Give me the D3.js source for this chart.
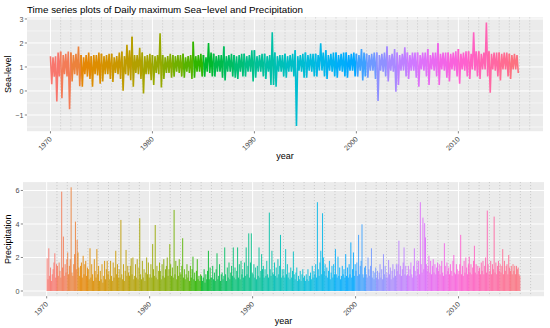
<!DOCTYPE html>
<html>
<head>
<meta charset="utf-8">
<script src="https://cdn.jsdelivr.net/npm/d3@7/dist/d3.min.js"></script>
<style>
  body { margin: 0; background: #fff; }
  text { font-family: "Liberation Sans", Arial, sans-serif; }
</style>
</head>
<body>
<svg id="chart" width="550" height="328"></svg>
<script>
// one row per year (1970 onwards), four quarterly highs / lows of daily max sea-level
var firstYear = 1970;
var seaHigh = [
  [1.45,1.40,1.45,1.60],[1.64,1.50,1.55,1.64],[1.60,1.50,1.55,1.85],[1.50,1.40,1.50,1.60],
  [1.45,1.50,1.50,1.60],[1.55,1.45,1.50,1.55],[1.55,1.40,1.45,1.60],[1.64,1.45,1.92,1.70],
  [2.26,1.50,1.50,1.80],[1.60,1.45,1.50,1.55],[1.50,1.45,1.50,2.40],[1.50,1.40,1.45,1.55],
  [1.50,1.45,1.50,1.50],[1.55,1.40,1.45,1.50],[2.05,1.45,1.50,1.55],[1.50,1.40,2.00,1.60],
  [1.55,1.45,1.50,1.50],[1.85,1.45,1.50,1.55],[1.50,1.45,1.50,1.55],[1.55,1.45,1.50,1.70],
  [1.70,1.45,1.50,1.55],[1.55,1.45,1.50,2.45],[1.60,1.45,1.50,1.50],[1.55,1.45,1.50,1.55],
  [1.70,1.45,1.50,1.55],[1.60,1.50,1.55,1.55],[1.55,1.50,1.99,1.60],[1.70,1.50,1.55,1.60],
  [1.60,1.50,1.55,1.60],[1.60,1.50,1.55,1.60],[1.55,1.50,1.75,1.60],[1.55,1.50,1.55,1.60],
  [1.60,1.50,1.55,1.60],[1.85,1.50,1.55,1.75],[1.60,1.50,1.55,1.82],[1.60,1.50,1.60,1.60],
  [1.60,1.50,1.60,1.60],[1.75,1.50,1.60,1.60],[1.99,1.55,1.60,1.60],[1.60,1.55,1.60,1.65],
  [1.75,1.55,1.60,1.65],[1.65,1.55,2.45,1.65],[1.65,1.55,1.60,2.85],[1.65,1.55,1.60,1.60],
  [1.60,1.55,1.60,1.60],[1.55,1.50,1.55,1.50]
];
var seaLow = [
  [0.28,0.60,-0.44,0.60],[-0.30,0.70,0.60,-0.76],[0.40,0.70,0.65,0.20],[0.18,0.70,0.60,0.50],
  [0.18,0.70,0.65,0.30],[0.40,0.70,0.70,0.50],[0.38,0.75,0.70,0.50],[0.01,0.70,0.65,0.45],
  [0.18,0.75,0.70,0.50],[-0.10,0.70,0.70,0.45],[0.25,0.75,0.70,0.15],[0.50,0.75,0.75,0.55],
  [0.60,0.80,0.75,0.60],[0.55,0.80,0.75,0.50],[0.55,0.80,0.80,0.60],[0.60,0.80,0.75,0.60],
  [0.60,0.80,0.80,0.55],[0.44,0.80,0.80,0.60],[0.55,0.50,0.80,0.60],[0.60,0.80,0.80,0.40],
  [0.55,0.80,0.80,0.60],[0.50,0.80,0.25,0.25],[0.18,0.80,0.80,0.60],[0.55,0.80,0.80,0.60],
  [-1.46,0.85,0.80,0.55],[0.55,0.85,0.80,0.60],[0.60,0.85,0.85,0.60],[0.50,0.85,0.80,0.60],
  [0.55,0.85,0.80,0.60],[0.55,0.85,0.85,0.60],[0.60,0.85,0.44,0.60],[0.55,0.85,0.85,0.50],
  [-0.42,0.85,0.80,0.60],[0.40,0.85,0.80,-0.03],[0.25,0.85,0.85,0.60],[0.50,0.85,0.85,0.55],
  [0.18,0.90,0.85,0.60],[0.25,0.90,0.85,0.60],[0.25,0.90,0.85,0.55],[0.40,0.90,0.85,0.60],
  [0.30,0.90,0.85,0.60],[0.50,0.90,0.85,0.60],[0.50,0.90,0.90,0.60],[-0.07,0.90,0.85,0.60],
  [0.44,0.90,0.90,0.60],[0.50,0.90,0.90,0.75]
];
// one row per year, monthly maxima of daily precipitation
var precipMax = [
  [1.95,0.7,2.55,0.9,1.4,0.6,1.0,1.3,1.7,2.25,0.8,1.6],
  [1.5,0.9,1.7,1.2,0.8,5.93,1.4,3.25,0.9,1.6,1.1,1.9],
  [2.3,1.0,1.5,1.9,6.19,1.1,0.9,1.6,2.2,4.14,1.3,3.05],
  [2.3,1.4,0.9,1.5,1.7,0.8,2.1,1.0,1.6,1.8,0.9,1.4],
  [1.3,0.7,2.55,0.8,1.6,1.0,0.6,1.9,1.2,0.8,2.5,1.0],
  [1.5,0.6,1.2,0.7,1.6,0.5,0.9,1.8,0.7,1.3,1.8,1.0],
  [1.2,0.7,1.8,0.9,0.6,1.7,0.8,1.4,2.4,1.0,1.6,0.8],
  [1.3,0.8,4.24,1.0,0.7,1.6,0.6,1.2,2.45,0.9,1.5,1.1],
  [0.9,1.5,1.95,1.0,2.0,0.7,0.9,1.6,0.8,1.9,0.7,1.4],
  [4.34,1.0,0.7,1.8,0.8,1.3,0.6,1.1,2.0,1.0,1.7,0.8],
  [1.0,1.6,0.8,2.8,1.3,0.9,3.94,0.8,1.5,0.7,1.2,1.7],
  [1.2,0.7,1.6,0.9,1.9,0.8,1.3,1.5,2.0,0.9,1.3,2.8],
  [1.6,0.9,1.4,0.8,4.84,1.0,1.8,0.7,1.5,0.9,1.9,1.1],
  [1.0,1.5,3.15,0.8,1.3,0.7,1.0,1.6,0.8,1.2,0.6,1.5],
  [0.8,1.3,2.05,0.7,1.1,0.6,1.2,1.9,0.7,0.9,0.6,1.0],
  [0.9,0.6,0.8,1.3,0.5,1.0,0.7,1.2,2.4,0.7,1.4,0.8],
  [0.8,1.5,0.7,1.1,0.6,1.3,2.25,0.7,0.9,1.6,0.6,1.0],
  [1.1,0.7,0.9,2.6,1.0,0.6,1.4,0.8,1.7,0.7,1.1,1.5],
  [0.9,2.6,0.8,1.4,0.7,1.2,2.6,0.8,1.6,0.7,1.8,1.0],
  [1.3,0.8,1.7,0.9,2.6,1.0,1.5,3.44,0.8,1.7,3.44,1.1],
  [1.0,1.6,0.8,1.4,0.7,1.5,0.9,2.6,0.8,1.2,2.2,1.3],
  [1.5,0.8,1.3,0.9,1.8,1.0,0.8,4.68,1.3,0.9,2.4,1.1],
  [1.0,1.7,0.9,1.4,0.8,1.9,1.0,1.5,3.35,0.8,1.3,0.9],
  [1.3,0.8,2.5,1.0,1.6,0.8,1.1,0.7,1.4,0.8,1.2,2.35],
  [1.0,0.7,1.1,1.4,0.6,0.9,0.7,1.2,0.6,1.0,1.3,0.8],
  [0.9,0.6,1.0,0.7,1.3,0.6,0.9,1.1,0.7,1.5,0.8,1.2],
  [1.0,1.6,0.8,5.3,1.3,0.9,1.7,2.4,1.0,4.64,2.0,1.2],
  [1.6,0.9,1.4,0.8,1.2,1.8,0.7,1.1,1.5,0.8,1.6,1.0],
  [2.5,1.0,0.8,2.05,0.9,1.4,0.7,0.9,1.5,1.0,1.3,0.8],
  [2.2,0.9,1.4,0.8,1.6,1.0,2.9,0.8,1.3,2.3,0.9,1.6],
  [1.2,1.7,0.9,3.35,1.0,1.5,1.8,3.98,1.0,0.8,1.4,1.5],
  [1.0,0.8,2.0,1.3,0.9,1.5,2.55,0.8,1.2,0.7,1.1,1.4],
  [0.8,1.2,0.7,1.1,1.6,0.8,1.3,0.7,2.2,1.0,1.5,0.8],
  [1.1,0.8,1.85,1.0,1.4,0.7,1.2,1.6,0.8,1.3,0.9,1.6],
  [1.2,1.6,3.0,1.0,1.5,0.9,1.3,1.7,2.6,1.0,1.5,0.9],
  [1.0,1.5,0.9,1.3,1.7,1.0,0.8,1.5,2.55,1.2,0.9,1.8],
  [1.3,1.8,1.0,5.3,1.6,1.1,4.38,1.3,4.05,3.2,1.6,1.2],
  [1.5,2.1,1.1,1.8,1.0,1.5,1.9,1.1,1.6,1.0,1.4,1.7],
  [1.2,1.6,1.0,1.5,1.8,1.1,0.9,2.85,1.5,1.0,1.7,1.2],
  [1.4,1.0,1.6,1.2,0.9,1.8,2.15,1.1,1.0,1.6,1.3,1.0],
  [1.2,1.6,3.35,1.0,1.5,0.9,1.8,1.1,2.0,1.4,1.0,1.6],
  [2.05,1.1,1.6,1.0,1.4,1.8,2.7,1.1,1.6,1.0,1.5,1.2],
  [1.4,1.0,1.7,1.2,1.8,1.0,1.5,2.0,1.1,4.8,1.6,1.0],
  [1.2,1.8,1.0,1.6,1.3,4.44,1.1,1.7,1.0,1.5,1.8,1.2],
  [1.6,1.1,1.5,2.5,1.0,1.8,1.2,1.5,1.6,1.0,2.15,1.4],
  [1.2,1.5,1.0,1.6,1.2,1.5,1.0,1.5,1.3,1.4,1.0,0.9]
];
var seaTicks = [-1, 0, 1, 2, 3];
var precipTicks = [0, 2, 4, 6];
var yearTicks = [1970, 1980, 1990, 2000, 2010];

var svg = d3.select("#chart");
var nYears = seaHigh.length;

// ggplot style 5% padding around the data range
function expand(ext) {
  var d = (ext[1] - ext[0]) * 0.05;
  return [ext[0] - d, ext[1] + d];
}

// hue_pal() colours: polar LUV -> sRGB
function hclColor(h, c, l) {
  var hr = h * Math.PI / 180;
  var U = c * Math.cos(hr), V = c * Math.sin(hr);
  var Xn = 95.047, Yn = 100, Zn = 108.883;
  var Y = l > 8 ? Yn * Math.pow((l + 16) / 116, 3) : Yn * l / 903.3;
  var den = Xn + 15 * Yn + 3 * Zn;
  var u = U / (13 * l) + 4 * Xn / den, v = V / (13 * l) + 9 * Yn / den;
  var X = 9 * Y * u / (4 * v);
  var Z = -X / 3 - 5 * Y + 3 * Y / v;
  function gam(t) {
    t = t <= 0.0031308 ? 12.92 * t : 1.055 * Math.pow(t, 1 / 2.4) - 0.055;
    return Math.round(255 * Math.max(0, Math.min(1, t)));
  }
  return d3.rgb(gam((3.240479 * X - 1.537150 * Y - 0.498535 * Z) / 100),
                gam((-0.969256 * X + 1.875992 * Y + 0.041556 * Z) / 100),
                gam((0.055648 * X - 0.204043 * Y + 1.057311 * Z) / 100)).toString();
}
var yearColors = d3.range(nYears).map(function(i) { return hclColor(15 + 360 * i / nYears, 100, 65); });

var xDomain = expand([firstYear, firstYear + nYears]);

function drawPanel(box, yDomain, yTicks, yTitle) {
  var x = d3.scaleLinear().domain(xDomain).range([box.left, box.right]);
  var y = d3.scaleLinear().domain(yDomain).range([box.bottom, box.top]);
  var g = svg.append("g");

  g.append("rect")
    .attr("x", box.left).attr("y", box.top)
    .attr("width", box.right - box.left).attr("height", box.bottom - box.top)
    .attr("fill", "#EBEBEB");

  // minor horizontal grid halfway between ticks
  var step = yTicks[1] - yTicks[0];
  var minorY = d3.range(yTicks[0] - step / 2, yTicks[yTicks.length - 1] + step, step)
    .filter(function(d) { return d > yDomain[0] && d < yDomain[1]; });
  g.selectAll(".minorY").data(minorY).enter().append("line")
    .attr("x1", box.left).attr("x2", box.right)
    .attr("y1", function(d) { return y(d); }).attr("y2", function(d) { return y(d); })
    .attr("stroke", "#fff").attr("stroke-width", 0.5);
  g.selectAll(".majorY").data(yTicks).enter().append("line")
    .attr("x1", box.left).attr("x2", box.right)
    .attr("y1", function(d) { return y(d); }).attr("y2", function(d) { return y(d); })
    .attr("stroke", "#fff").attr("stroke-width", 1);

  // yearly dotted lines, decades solid
  var yearLines = d3.range(Math.ceil(xDomain[0]) + 3, Math.floor(xDomain[1]))
    .filter(function(d) { return d % 10 != 0; });
  g.selectAll(".minorX").data(yearLines).enter().append("line")
    .attr("x1", function(d) { return x(d); }).attr("x2", function(d) { return x(d); })
    .attr("y1", box.top).attr("y2", box.bottom)
    .attr("stroke", "#b8b8b8").attr("stroke-width", 0.7)
    .attr("stroke-dasharray", "1,2");
  g.selectAll(".majorX").data(yearTicks).enter().append("line")
    .attr("x1", function(d) { return x(d); }).attr("x2", function(d) { return x(d); })
    .attr("y1", box.top).attr("y2", box.bottom)
    .attr("stroke", "#fff").attr("stroke-width", 1);

  // axes
  g.selectAll(".ytick").data(yTicks).enter().append("line")
    .attr("x1", box.left - 2.2).attr("x2", box.left)
    .attr("y1", function(d) { return y(d); }).attr("y2", function(d) { return y(d); })
    .attr("stroke", "#333").attr("stroke-width", 0.6);
  g.selectAll(".ylab").data(yTicks).enter().append("text")
    .attr("x", box.left - 3.5).attr("y", function(d) { return y(d) + 2.6; })
    .attr("text-anchor", "end").attr("font-size", 7.2).attr("fill", "#4D4D4D")
    .text(function(d) { return d < 0 ? "\u2212" + Math.abs(d) : d; });
  g.selectAll(".xtick").data(yearTicks).enter().append("line")
    .attr("x1", function(d) { return x(d); }).attr("x2", function(d) { return x(d); })
    .attr("y1", box.bottom).attr("y2", box.bottom + 2.2)
    .attr("stroke", "#333").attr("stroke-width", 0.6);
  g.selectAll(".xlab").data(yearTicks).enter().append("text")
    .attr("transform", function(d) { return "translate(" + (x(d) + 2) + "," + (box.bottom + 8.5) + ") rotate(-45)"; })
    .attr("text-anchor", "end").attr("font-size", 7.2).attr("fill", "#4D4D4D")
    .text(function(d) { return d; });

  g.append("text")
    .attr("x", (box.left + box.right) / 2).attr("y", box.bottom + 28)
    .attr("text-anchor", "middle").attr("font-size", 9).attr("fill", "#000")
    .text("year");
  g.append("text")
    .attr("transform", "translate(11," + ((box.top + box.bottom) / 2) + ") rotate(-90)")
    .attr("text-anchor", "middle").attr("font-size", 9).attr("fill", "#000")
    .text(yTitle);

  return { x: x, y: y, g: g };
}

// ---- Sea-level panel ----
var seaExt = expand([d3.min(seaLow, function(r) { return d3.min(r); }),
                     d3.max(seaHigh, function(r) { return d3.max(r); })]);
var p1 = drawPanel({ left: 27, right: 543, top: 17.4, bottom: 131.2 }, seaExt, seaTicks, "Sea-level");

var seaPts = [];
seaHigh.forEach(function(row, i) {
  row.forEach(function(hv, q) {
    seaPts.push({ yr: i, t: firstYear + i + q / 4, v: hv });
    seaPts.push({ yr: i, t: firstYear + i + q / 4 + 0.125, v: seaLow[i][q] });
  });
});
var seaLine = d3.line().x(function(d) { return p1.x(d.t); }).y(function(d) { return p1.y(d.v); });
d3.range(nYears).forEach(function(i) {
  var pts = seaPts.filter(function(d) { return d.yr == i; });
  var next = seaPts.find(function(d) { return d.yr == i + 1; });
  if (next) pts.push(next);
  p1.g.append("path").attr("d", seaLine(pts))
    .attr("fill", "none").attr("stroke", yearColors[i])
    .attr("stroke-width", 1.6).attr("stroke-linejoin", "bevel");
});

// ---- Precipitation panel ----
var precipExt = expand([0, d3.max(precipMax, function(r) { return d3.max(r); })]);
var p2 = drawPanel({ left: 23, right: 544, top: 182.1, bottom: 296.2 }, precipExt, precipTicks, "Precipitation");

var precipPts = [];
precipMax.forEach(function(row, i) {
  row.forEach(function(v, m) {
    precipPts.push({ yr: i, t: firstYear + i + (m + 0.5) / 12, v: v });
  });
});
p2.g.selectAll(".pbar").data(precipPts).enter().append("line")
  .attr("x1", function(d) { return p2.x(d.t); }).attr("x2", function(d) { return p2.x(d.t); })
  .attr("y1", p2.y(0)).attr("y2", function(d) { return p2.y(d.v); })
  .attr("stroke", function(d) { return yearColors[d.yr]; })
  .attr("stroke-width", 0.9);

// title
svg.append("text")
  .attr("x", 27).attr("y", 13)
  .attr("font-size", 9.8).attr("fill", "#000")
  .text("Time series plots of Daily maximum Sea\u2212level and Precipitation");
</script>
</body>
</html>
